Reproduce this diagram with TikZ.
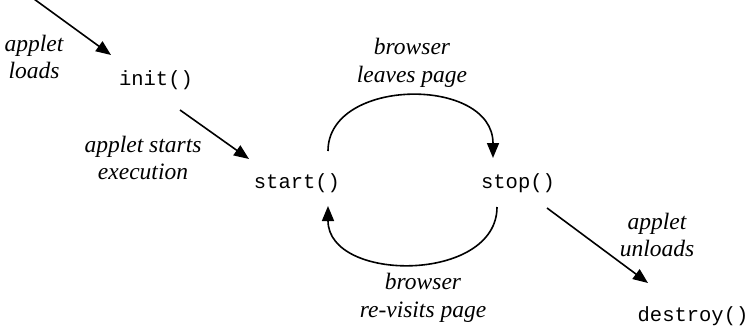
\documentclass[tikz,border=0pt]{standalone}
\usepackage{fontspec}
\setmainfont{Liberation Serif}
\setmonofont{Liberation Mono}
\usetikzlibrary{arrows.meta,calc}
\begin{document}
\begin{tikzpicture}[x=1pt,y=-1pt,
  code/.style={font=\ttfamily\fontsize{20.5}{24}\selectfont, inner sep=0pt},
  lbl/.style={font=\itshape\fontsize{23.5}{27.5}\selectfont, align=center, inner sep=0pt},
  arr/.style={line width=1.6pt, -{Triangle[length=15pt,width=12pt]}}]
\useasboundingbox (0,0) rectangle (754,326);
% nodes
\node[code] (init) at (156,80) {init()};
\node[code] (start) at (297,183) {start()};
\node[code] (stop) at (518,183) {stop()};
\node[code] (destroy) at (693,316) {destroy()};
% labels
\node[lbl] (l1) at (34,57) {applet\\loads};
\node[lbl] (l2) at (143,158) {applet starts\\execution};
\node[lbl] (l3) at (412,63) {browser\\leaves page};
\node[lbl] (l4) at (423,298) {browser\\re-visits page};
\node[lbl] (l5) at (657,235) {applet\\unloads};
% connector endpoints
\coordinate (in0) at (34,-1);
\coordinate (in1) at ($(init)+(-45,-25)$);
\coordinate (s0) at ($(init)+(24,30)$);
\coordinate (s1) at ($(start)+(-48,-24)$);
\coordinate (d0) at ($(stop)+(29,25)$);
\coordinate (d1) at ($(destroy)+(-45,-33)$);
\coordinate (u0) at ($(start)+(31,-32)$);
\coordinate (u1) at ($(stop)+(-25,-25)$);
\coordinate (b0) at ($(stop)+(-21,24)$);
\coordinate (b1) at ($(start)+(31,23)$);
% connectors
\draw[arr] (in0) -- (in1);
\draw[arr] (s0) -- (s1);
\draw[arr] (d0) -- (d1);
\draw[arr] (u0) .. controls ($(u0)+(0,-74)$) and ($(u1)+(0,-82)$) .. (u1);
\draw[arr] (b0) .. controls ($(b0)+(0,76)$) and ($(b1)+(0,77)$) .. (b1);
\end{tikzpicture}
\end{document}
